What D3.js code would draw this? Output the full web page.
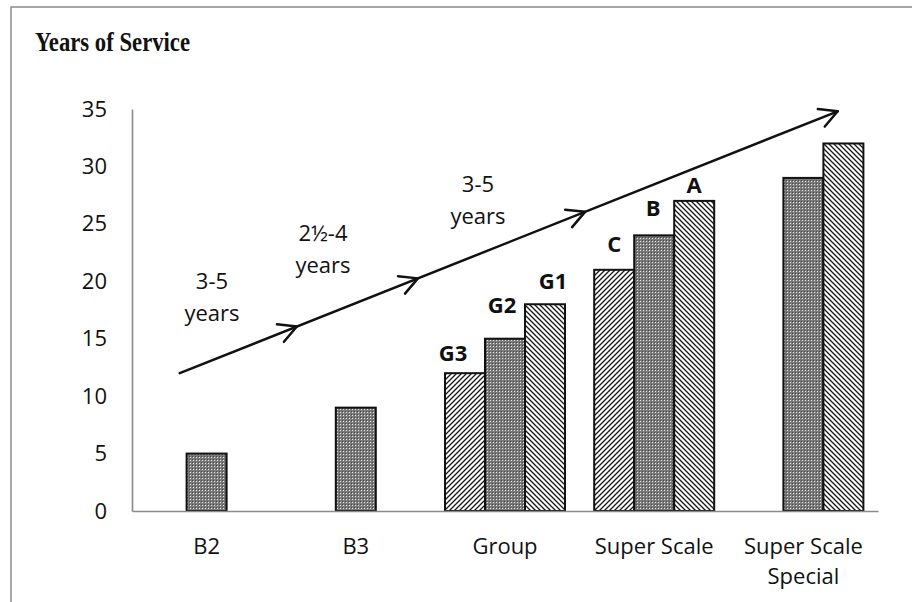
<!DOCTYPE html>
<html>
<head>
<meta charset="utf-8">
<script src="https://cdn.jsdelivr.net/npm/d3@7"></script>
<style>
  body { margin: 0; background: #fff; }
  svg { display: block; }
</style>
</head>
<body>
<svg id="chart" width="912" height="602"></svg>
<script>
// ---- data ----
const categories = ["B2", "B3", "Group", "Super Scale", "Super Scale Special"];
const seriesKeys = ["lower", "middle", "upper"];
const lowerValues  = [null, null, 12, 21, null];
const middleValues = [5, 9, 15, 24, 29];
const upperValues  = [null, null, 18, 27, 32];
const yTicks = [0, 5, 10, 15, 20, 25, 30, 35];

// grade names written above the bars
const gradeLabels = [
  { cat: "Group",       key: "lower",  text: "G3" },
  { cat: "Group",       key: "middle", text: "G2" },
  { cat: "Group",       key: "upper",  text: "G1" },
  { cat: "Super Scale", key: "lower",  text: "C" },
  { cat: "Super Scale", key: "middle", text: "B" },
  { cat: "Super Scale", key: "upper",  text: "A" }
];
// label nudges in px (dx, baseline distance above bar top)
const gradeLabelNudge = [[-12, 12], [-3, 26], [8, 15], [0, 18], [-1, 19], [0, 8]];

// promotion-interval notes along the career arrow
const stepTexts = [["3-5", "years"], ["2½-4", "years"], ["3-5", "years"]];
// anchor of each note: position along the category axis (in bands) and value
const stepAnchors = [[0.536, 19.33], [1.28, 23.5], [2.319, 27.77]];

// career arrow, in (band position, value) units
const trendStart = [0.32, 12];
const trendEnd = [4.73, 34.8];
const chevronStops = [0.178, 0.362, 0.616, 1];

// ---- layout ----
const svg = d3.select("#chart");
const plotLeft = 132, plotRight = 878, plotTop = 109, plotBottom = 511;
const font = "'Open Sans', 'Noto Sans', sans-serif";
const axisGrey = "#8a8a8a";

const seriesValues = { lower: lowerValues, middle: middleValues, upper: upperValues };

const x = d3.scaleBand().domain(categories).range([plotLeft, plotRight]);
const xInner = d3.scaleBand().domain(seriesKeys).range([0, x.bandwidth()]).paddingOuter(0.365);
const xPos = d3.scaleLinear().domain([0, categories.length]).range([plotLeft, plotRight]);
const y = d3.scaleLinear().domain([0, 35]).range([plotBottom, plotTop]);

// ---- fill patterns ----
const defs = svg.append("defs");

const dots = defs.append("pattern").attr("id", "dots")
  .attr("patternUnits", "userSpaceOnUse").attr("width", 3).attr("height", 3);
dots.append("rect").attr("width", 3).attr("height", 3).attr("fill", "#7a7a7a");
dots.append("rect").attr("x", 1).attr("y", 1).attr("width", 1).attr("height", 1).attr("fill", "#e4e4e4");
dots.append("rect").attr("x", 0).attr("y", 0).attr("width", 1).attr("height", 1).attr("fill", "#4a4a4a");

function hatch(id, rising) {
  const p = defs.append("pattern").attr("id", id)
    .attr("patternUnits", "userSpaceOnUse").attr("width", 5).attr("height", 5);
  p.append("rect").attr("width", 5).attr("height", 5).attr("fill", "#fff");
  const d = rising
    ? "M-1,1 l2,-2 M0,5 l5,-5 M4,6 l2,-2"
    : "M-1,4 l2,2 M0,0 l5,5 M4,-1 l2,2";
  p.append("path").attr("d", d).attr("stroke", "#1a1a1a").attr("stroke-width", 1.35);
}
hatch("rising", true);
hatch("falling", false);
const fills = { lower: "url(#rising)", middle: "url(#dots)", upper: "url(#falling)" };

// ---- frame ----
svg.append("path").attr("d", "M11,602 V7 H912")
  .attr("fill", "none").attr("stroke", axisGrey).attr("stroke-width", 1.5);

// ---- title ----
svg.append("text").attr("x", 35).attr("y", 51)
  .attr("font-family", "'Liberation Serif', 'DejaVu Serif', serif")
  .attr("font-weight", "bold").attr("font-size", 28)
  .attr("textLength", 155).attr("lengthAdjust", "spacingAndGlyphs")
  .attr("fill", "#111").text("Years of Service");

// ---- bars ----
const barData = [];
categories.forEach((c, i) => seriesKeys.forEach(k => {
  const v = seriesValues[k][i];
  if (v != null) barData.push({ cat: c, key: k, value: v });
}));

svg.append("g").selectAll("rect").data(barData).join("rect")
  .attr("x", d => x(d.cat) + xInner(d.key))
  .attr("y", d => y(d.value))
  .attr("width", xInner.bandwidth())
  .attr("height", d => y(0) - y(d.value))
  .attr("fill", d => fills[d.key])
  .attr("stroke", "#111").attr("stroke-width", 2);

// ---- axes ----
const yAxis = svg.append("g").attr("transform", `translate(${plotLeft},0)`)
  .call(d3.axisLeft(y).tickValues(yTicks).tickSize(0).tickPadding(25));
yAxis.select(".domain").attr("stroke", axisGrey).attr("stroke-width", 1.6);
yAxis.selectAll("text").attr("font-family", font).attr("font-size", 22).attr("fill", "#111");

const xAxis = svg.append("g").attr("transform", `translate(0,${plotBottom})`)
  .call(d3.axisBottom(x).tickSize(0).tickPadding(0));
xAxis.select(".domain").attr("stroke", axisGrey).attr("stroke-width", 1.6);
xAxis.selectAll("text")
  .attr("font-family", font).attr("font-size", 22).attr("fill", "#111")
  .attr("dy", null).attr("y", 43)
  .each(function () {
    // break long category names onto several lines within the band
    const t = d3.select(this);
    const words = t.text().split(" ");
    t.text(null);
    let line = [];
    let tspan = t.append("tspan").attr("x", 0).attr("y", 43);
    let row = 0;
    words.forEach(w => {
      line.push(w);
      tspan.text(line.join(" "));
      if (tspan.node().getComputedTextLength() > x.bandwidth() - 4 && line.length > 1) {
        line.pop();
        tspan.text(line.join(" "));
        line = [w];
        row += 1;
        tspan = t.append("tspan").attr("x", 0).attr("y", 43 + row * 30).text(w);
      }
    });
  });

// ---- grade labels ----
svg.append("g").selectAll("text").data(gradeLabels).join("text")
  .attr("x", (d, i) => x(d.cat) + xInner(d.key) + xInner.bandwidth() / 2 + gradeLabelNudge[i][0])
  .attr("y", (d, i) => y(seriesValues[d.key][categories.indexOf(d.cat)]) - gradeLabelNudge[i][1])
  .attr("text-anchor", "middle")
  .attr("font-family", font).attr("font-weight", "bold").attr("font-size", 22)
  .attr("fill", "#111").text(d => d.text);

// ---- career arrow ----
const p0 = [xPos(trendStart[0]), y(trendStart[1])];
const p1 = [xPos(trendEnd[0]), y(trendEnd[1])];
const arrow = svg.append("g").attr("stroke", "#111").attr("stroke-width", 2.5)
  .attr("fill", "none").attr("stroke-linecap", "round").attr("stroke-linejoin", "round");
arrow.append("line")
  .attr("x1", p0[0]).attr("y1", p0[1]).attr("x2", p1[0]).attr("y2", p1[1]);

const ang = Math.atan2(p1[1] - p0[1], p1[0] - p0[0]);
const armLen = 20, spread = 28 * Math.PI / 180;
chevronStops.forEach(t => {
  const tx = p0[0] + (p1[0] - p0[0]) * t;
  const ty = p0[1] + (p1[1] - p0[1]) * t;
  const a1 = ang + Math.PI - spread, a2 = ang + Math.PI + spread;
  const path = d3.path();
  path.moveTo(tx + armLen * Math.cos(a1), ty + armLen * Math.sin(a1));
  path.lineTo(tx, ty);
  path.lineTo(tx + armLen * Math.cos(a2), ty + armLen * Math.sin(a2));
  arrow.append("path").attr("d", path.toString());
});

// ---- interval notes ----
const notes = svg.append("g").attr("font-family", font).attr("font-size", 22)
  .attr("fill", "#111").attr("text-anchor", "middle");
stepTexts.forEach((lines, i) => {
  const t = notes.append("text");
  lines.forEach((s, j) => {
    t.append("tspan")
      .attr("x", xPos(stepAnchors[i][0]))
      .attr("y", y(stepAnchors[i][1]) + j * 32)
      .text(s);
  });
});
</script>
</body>
</html>
